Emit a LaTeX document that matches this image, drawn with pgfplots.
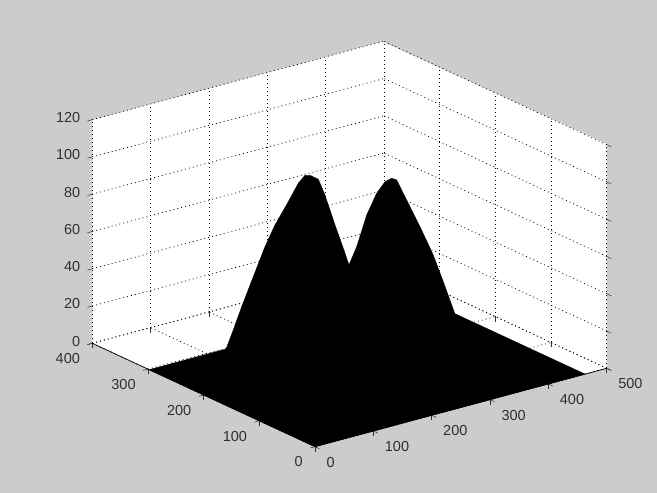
\documentclass[border=0pt]{standalone}
\usepackage{pgfplots}
\pgfplotsset{compat=1.18}
\usepackage{fontspec}
\setmainfont{Liberation Sans}
\definecolor{bg}{HTML}{CCCCCC}
\definecolor{txt}{HTML}{303030}
\begin{document}
\begin{tikzpicture}[x=1pt,y=1pt]
\fill[bg] (0,0) rectangle (657,493);
\useasboundingbox (0,0) rectangle (657,493);
\fill[white] (92.3,149.7) -- (92.3,373) -- (382.5,451.3) -- (606.7,349) -- (606.7,124.7) -- (315,46.3) -- cycle;
\begin{axis}[
  at={(315pt,46.3pt)}, anchor=origin,
  disabledatascaling,
  x={(0.5834pt,0.1568pt)}, y={(-0.5568pt,0.2585pt)}, z={(0pt,1.864pt)},
  xmin=0,xmax=500,ymin=0,ymax=400,zmin=0,zmax=120,
  xtick={0,100,...,500}, ytick={0,100,...,400}, ztick={0,20,...,120},
  grid=major,
  grid style={black, line width=0.7pt, dash pattern=on 1pt off 3pt},
  axis line style={draw=none},
  tick style={black!80, line width=0.5pt},
  tick align=outside,
  tick pos=left,
  major tick length=5pt,
  clip=false,
  tick label style={font=\fontsize{14.5}{16}\selectfont, text=txt},
  /pgf/number format/assume math mode=true,
  xticklabel style={anchor=west, xshift=3.5pt, yshift=-13.5pt},
  yticklabel style={anchor=east, xshift=-4pt, yshift=-14pt},
  zticklabel style={anchor=east, xshift=-4pt},
]
\addplot3[fill=black, draw=black, line width=0.3pt] coordinates {
  (0,0,0) (463,0,0) (463,233,0) (131.5,298,0) (0,298,0) (0,0,0)};
\addplot3[fill=black, draw=black, line width=0.3pt] coordinates {
(131.8,297.9,0) (142.3,295.9,9.6) (154.4,293.5,21.4) (171.2,290.2,36.6)
(188.1,286.9,51.7) (202.5,284.1,62.5) (221.7,280.3,73.9) (236.2,277.5,83.0)
(245.8,275.6,86.7) (253.1,274.2,86.3) (265.1,271.8,83.5) (274.7,269.9,74.5)
(289.2,267.1,57.6) (301.2,264.7,44.4) (309.4,263.1,35.0) (320.5,260.9,44.2)
(335.0,258.1,60.4) (349.4,255.3,71.2) (361.4,252.9,76.7) (371.0,251.0,78.0)
(378.2,249.6,76.7) (392.7,246.8,65.1) (411.9,243.0,49.7) (431.1,239.3,33.4)
(445.5,236.4,18.3) (462.4,233.1,0) (420,100,0) (100,100,0) (131.8,297.9,0)};
\draw[black, line width=0.7pt] (axis cs:500,0,0) -- (axis cs:0,0,0) -- (axis cs:0,400,0);
\end{axis}
\end{tikzpicture}
\end{document}
